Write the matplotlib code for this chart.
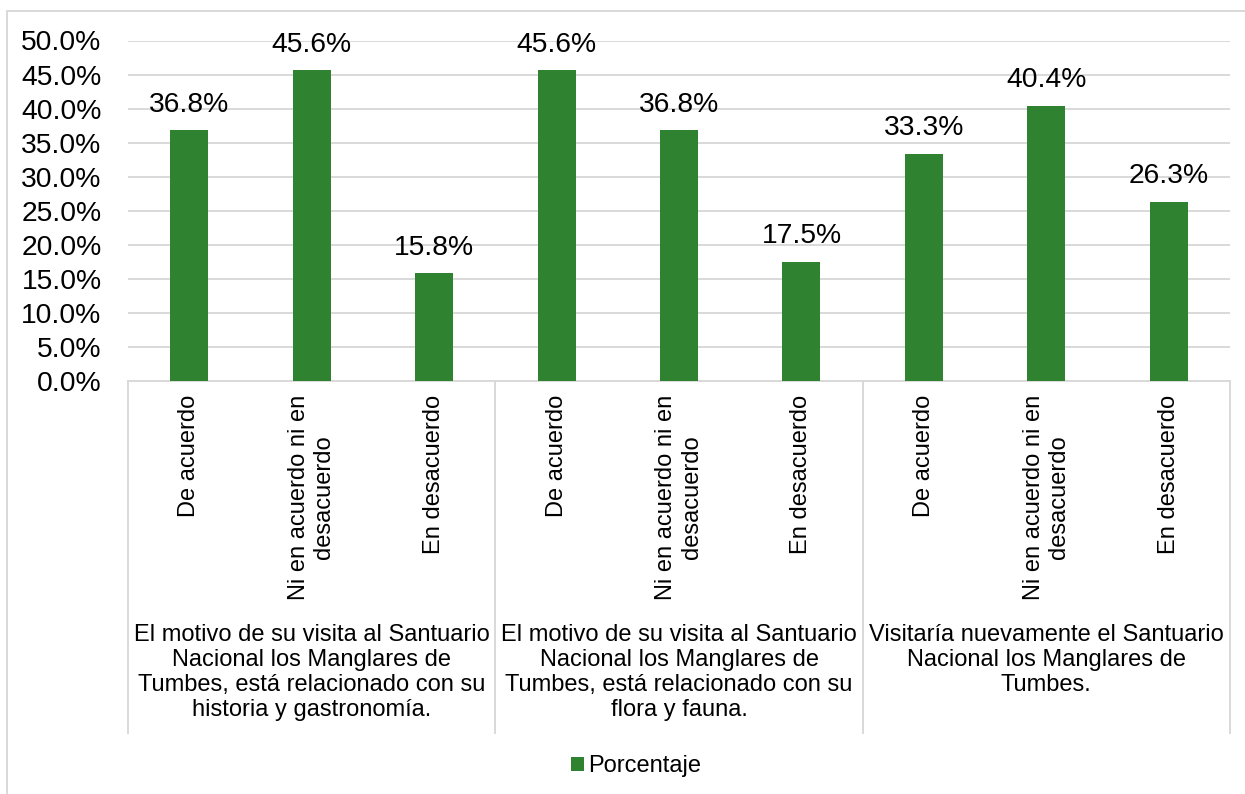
import matplotlib.pyplot as plt
from matplotlib.patches import Rectangle
from matplotlib.ticker import FuncFormatter

plt.rcParams['font.family'] = ['Liberation Sans', 'DejaVu Sans']

GRUPOS = [
    'El motivo de su visita al Santuario\nNacional los Manglares de\nTumbes, está relacionado con su\nhistoria y gastronomía.',
    'El motivo de su visita al Santuario\nNacional los Manglares de\nTumbes, está relacionado con su\nflora y fauna.',
    'Visitaría nuevamente el Santuario\nNacional los Manglares de\nTumbes.',
]
RESPUESTAS = ['De acuerdo', 'Ni en acuerdo ni en\ndesacuerdo', 'En desacuerdo']
porcentaje = [36.8, 45.6, 15.8, 45.6, 36.8, 17.5, 33.3, 40.4, 26.3]

VERDE = '#2e8230'
GRIS = '#d9d9d9'
FS = 17
FS_NUM = 20.3

W, H = 1245, 794
fig = plt.figure(figsize=(W / 100, H / 100), dpi=100)
ax = fig.add_axes([128 / W, 1 - 381 / H, (1230 - 128) / W, (381 - 40.5) / H])

etiquetas = RESPUESTAS * len(GRUPOS)
x = list(range(len(porcentaje)))
valores = [v / 100 for v in porcentaje]
ax.bar(x, valores, width=0.31, color=VERDE, zorder=3, label='Porcentaje')

for xi, v in zip(x, valores):
    ax.annotate(f'{v:.1%}', (xi, v), xytext=(0, 13.5), textcoords='offset points',
                ha='center', va='baseline', fontsize=FS_NUM)

ax.set_xlim(-0.5, len(porcentaje) - 0.5)
ax.set_ylim(0, 0.5)
ax.set_yticks([i * 0.05 for i in range(11)])
ax.yaxis.set_major_formatter(FuncFormatter(lambda v, _: f'{v:.1%}'))
ax.grid(axis='y', color=GRIS, lw=1.4, zorder=0)
ax.tick_params(axis='y', length=0, pad=19, labelsize=FS_NUM)

ax.set_xticks(x)
ax.set_xticklabels(etiquetas, rotation=90, fontsize=FS)
for lbl in ax.get_xticklabels():
    lbl.set_multialignment('center')
ax.tick_params(axis='x', length=0, pad=10)

for s in ['top', 'right', 'left']:
    ax.spines[s].set_visible(False)
ax.spines['bottom'].set_color(GRIS)
ax.spines['bottom'].set_linewidth(1.4)

# separadores del eje de categorias
y_fin = (381 - 733) / (381 - 40.5)
for k in range(len(GRUPOS) + 1):
    xs = k / len(GRUPOS)
    ax.plot([xs, xs], [0, y_fin], transform=ax.transAxes, color=GRIS, lw=1.4, clip_on=False)

y_grupo = (381 - 624) / (381 - 40.5)
for k, g in enumerate(GRUPOS):
    ax.text((k + 0.5) / len(GRUPOS), y_grupo, g, transform=ax.transAxes, ha='center', va='top',
            multialignment='center', fontsize=FS, linespacing=1.17)

fig.legend(loc='center', bbox_to_anchor=(636 / W, 1 - 766 / H), frameon=False, fontsize=FS,
           handlelength=0.55, handleheight=0.55, handletextpad=0.2)

fig.add_artist(Rectangle((7 / W, -0.05), 1.2, 1.05 - 11 / H, transform=fig.transFigure,
                         fill=False, edgecolor=GRIS, lw=1.4))

fig.savefig('out.png', dpi=100)
